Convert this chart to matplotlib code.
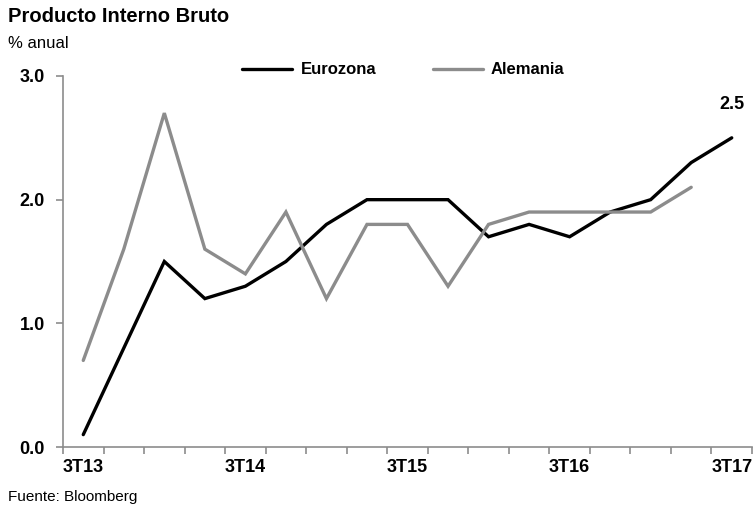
import matplotlib
matplotlib.use("Agg")
import matplotlib.pyplot as plt
from matplotlib.font_manager import fontManager

names = {f.name for f in fontManager.ttflist}
FAM = ['Liberation Sans Narrow', 'Liberation Sans', 'DejaVu Sans'] if 'Liberation Sans Narrow' in names else ['Liberation Sans', 'DejaVu Sans']
plt.rcParams['font.family'] = FAM

quarters = ['3T13', '4T13', '1T14', '2T14', '3T14', '4T14', '1T15', '2T15', '3T15',
            '4T15', '1T16', '2T16', '3T16', '4T16', '1T17', '2T17', '3T17']
eurozona = [0.1, 0.8, 1.5, 1.2, 1.3, 1.5, 1.8, 2.0, 2.0, 2.0, 1.7, 1.8, 1.7, 1.9, 2.0, 2.3, 2.5]
alemania = [0.7, 1.6, 2.7, 1.6, 1.4, 1.9, 1.2, 1.8, 1.8, 1.3, 1.8, 1.9, 1.9, 1.9, 1.9, 2.1]
ytick_vals = [0.0, 1.0, 2.0, 3.0]

W, H = 753, 514
fig = plt.figure(figsize=(W / 100, H / 100), dpi=100)
ax = fig.add_axes([63 / W, (H - 447) / H, (752 - 63) / W, (447 - 76) / H])

x_e = list(range(len(eurozona)))
x_a = list(range(len(alemania)))
ax.plot(x_e, eurozona, color='black', lw=2.4, label='Eurozona', solid_capstyle='round', solid_joinstyle='miter')
ax.plot(x_a, alemania, color='#8c8c8c', lw=2.4, label='Alemania', solid_capstyle='round', solid_joinstyle='miter')

ax.set_xlim(-0.5, len(quarters) - 0.5)
ax.set_ylim(0, 3)

for s in ['top', 'right']:
    ax.spines[s].set_visible(False)
for s in ['left', 'bottom']:
    ax.spines[s].set_color('#8c8c8c')
    ax.spines[s].set_linewidth(1.2)

ax.set_xticks([i - 0.5 for i in range(len(quarters) + 1)], minor=True)
ax.set_xticks([i for i in range(0, len(quarters), 4)])
ax.set_xticklabels([quarters[i] for i in range(0, len(quarters), 4)], fontsize=13, fontweight='bold')
ax.tick_params(axis='x', which='major', length=0, pad=9)
ax.tick_params(axis='x', which='minor', length=5, width=1.2, color='#8c8c8c', direction='out')
ax.set_yticks(ytick_vals)
ax.set_yticklabels([f'{v:.1f}' for v in ytick_vals], fontsize=13, fontweight='bold')
ax.tick_params(axis='y', length=5, width=1.2, color='#8c8c8c', pad=8)

ax.annotate(f'{eurozona[-1]:.1f}', (x_e[-1], eurozona[-1]), xytext=(0, 18), textcoords='offset points',
            ha='center', va='bottom', fontsize=13, fontweight='bold')

leg = ax.legend(loc='upper center', bbox_to_anchor=(0.494, 1.077), ncol=2, frameon=False,
                prop={'weight': 'bold', 'size': 12}, handlelength=3.0, columnspacing=3.4, handletextpad=0.5)

fig.text(8 / W, 1 - 17 / H, 'Producto Interno Bruto', fontsize=14.5, fontweight='bold', va='center', ha='left')
fig.text(8 / W, 1 - 44 / H, '% anual', fontsize=12, va='center', ha='left')
fig.text(8 / W, 1 - 497 / H, 'Fuente: Bloomberg', fontsize=11, va='center', ha='left')

fig.savefig('out.png', dpi=100)
